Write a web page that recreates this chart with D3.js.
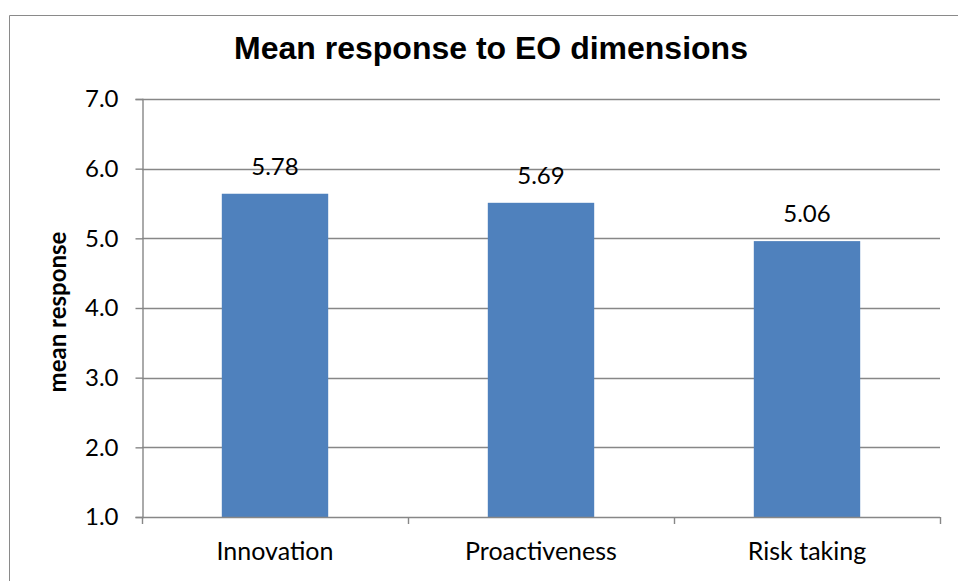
<!DOCTYPE html>
<html>
<head>
<meta charset="utf-8">
<script src="https://cdn.jsdelivr.net/npm/d3@7/dist/d3.min.js"></script>
<style>
  html, body { margin: 0; padding: 0; background: #fff; }
  svg { display: block; }
</style>
</head>
<body>
<svg id="chart" width="958" height="581"></svg>
<script>
// ---- data ----
const categories = ["Innovation", "Proactiveness", "Risk taking"];
const barValues = [5.64, 5.51, 4.96];          // bar heights as drawn
const dataLabels = ["5.78", "5.69", "5.06"];   // printed data labels
const yTicks = [1, 2, 3, 4, 5, 6, 7];
const titleText = "Mean response to EO dimensions";
const yTitleText = "mean response";

// ---- layout ----
const W = 958, H = 581;
const plot = { left: 142, right: 940, top: 99, bottom: 517 };
const labelFont = "Lato, 'Open Sans', sans-serif";
const gridColor = "#878787";

const svg = d3.select("#chart");

// outer chart border (left & top visible)
svg.append("path")
  .attr("d", `M9.5,${H} L9.5,15.5 L${W},15.5`)
  .attr("fill", "none")
  .attr("stroke", "#8a8a8a")
  .attr("stroke-width", 1);

const x = d3.scaleBand()
  .domain(categories)
  .range([plot.left, plot.right])
  .paddingInner(0.6)
  .paddingOuter(0.3);

const y = d3.scaleLinear()
  .domain([1, 7])
  .range([plot.bottom, plot.top]);

// gridlines
svg.append("g")
  .selectAll("line")
  .data(yTicks.slice(1))
  .join("line")
  .attr("x1", plot.left)
  .attr("x2", plot.right)
  .attr("y1", d => Math.round(y(d)) + 0.5)
  .attr("y2", d => Math.round(y(d)) + 0.5)
  .attr("stroke", gridColor)
  .attr("stroke-width", 1.4);

// bars
svg.append("g")
  .selectAll("rect")
  .data(categories)
  .join("rect")
  .attr("x", d => x(d))
  .attr("width", x.bandwidth())
  .attr("y", (d, i) => y(barValues[i]))
  .attr("height", (d, i) => y(1) - y(barValues[i]))
  .attr("fill", "#4F81BD");

// y axis
const yAxis = svg.append("g")
  .attr("transform", `translate(${plot.left + 0.5},0)`)
  .call(d3.axisLeft(y).tickValues(yTicks).tickFormat(d3.format(".1f")).tickSize(7).tickPadding(17));
yAxis.select(".domain").attr("stroke", gridColor).attr("stroke-width", 1.4);
yAxis.selectAll(".tick line").attr("stroke", gridColor).attr("stroke-width", 1.4);
yAxis.selectAll(".tick text")
  .attr("font-family", labelFont)
  .attr("font-size", 24)
  .attr("fill", "#000");

// x axis
const xTickScale = d3.scaleLinear().domain([0, categories.length]).range([plot.left, plot.right]);
const xAxisG = svg.append("g");
xAxisG.append("line")
  .attr("x1", plot.left).attr("x2", plot.right)
  .attr("y1", plot.bottom + 0.5).attr("y2", plot.bottom + 0.5)
  .attr("stroke", gridColor).attr("stroke-width", 1.4);
xAxisG.selectAll("line.tk")
  .data(d3.range(categories.length + 1))
  .join("line")
  .attr("class", "tk")
  .attr("x1", d => Math.round(xTickScale(d)) + 0.5)
  .attr("x2", d => Math.round(xTickScale(d)) + 0.5)
  .attr("y1", plot.bottom)
  .attr("y2", plot.bottom + 7)
  .attr("stroke", gridColor).attr("stroke-width", 1.4);
xAxisG.selectAll("text")
  .data(categories)
  .join("text")
  .attr("x", d => x(d) + x.bandwidth() / 2)
  .attr("y", 560)
  .attr("text-anchor", "middle")
  .attr("font-family", labelFont)
  .attr("font-size", 25)
  .attr("fill", "#000")
  .text(d => d);

// data labels
svg.append("g")
  .selectAll("text")
  .data(categories)
  .join("text")
  .attr("x", d => x(d) + x.bandwidth() / 2)
  .attr("y", (d, i) => y(barValues[i]) - 19)
  .attr("text-anchor", "middle")
  .attr("font-family", labelFont)
  .attr("font-size", 24)
  .attr("fill", "#000")
  .text((d, i) => dataLabels[i]);

// title
svg.append("text")
  .attr("x", 491)
  .attr("y", 59)
  .attr("text-anchor", "middle")
  .attr("font-family", "'Liberation Sans', Arial, sans-serif")
  .attr("font-weight", "bold")
  .attr("font-size", 32)
  .attr("fill", "#000")
  .text(titleText);

// y axis title
svg.append("text")
  .attr("transform", `translate(66,312) rotate(-90)`)
  .attr("text-anchor", "middle")
  .attr("font-family", labelFont)
  .attr("font-weight", "bold")
  .attr("font-size", 24)
  .attr("fill", "#000")
  .text(yTitleText);
</script>
</body>
</html>
